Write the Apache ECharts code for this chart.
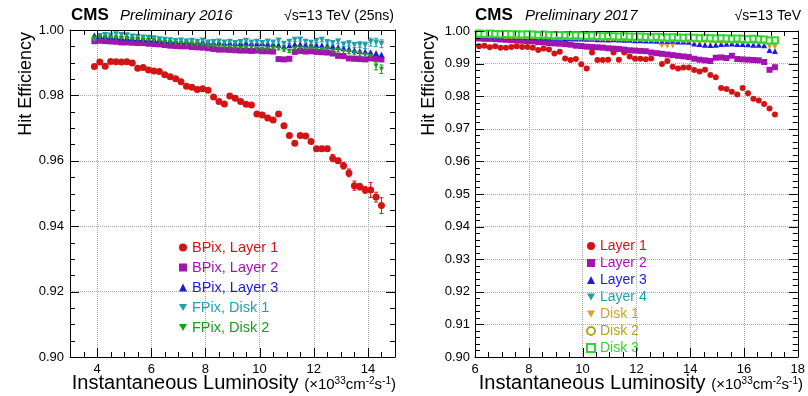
<!DOCTYPE html>
<html>
<head>
<meta charset="utf-8">
<title>Hit Efficiency vs Instantaneous Luminosity</title>
<script src="https://cdn.jsdelivr.net/npm/echarts@6/dist/echarts.min.js"></script>
<style>
  html, body { margin: 0; padding: 0; background: #fff; }
  #main { width: 808px; height: 396px; }
</style>
</head>
<body>
<div id="main"></div>
<script>
// ---- 2016 (left panel) ----
var lumi2016 = [
  3.9, 4.1, 4.3, 4.5, 4.7, 4.9, 5.1, 5.3, 5.5, 5.7,
  5.9, 6.1, 6.3, 6.5, 6.7, 6.9, 7.1, 7.3, 7.5, 7.7,
  7.9, 8.1, 8.3, 8.5, 8.7, 8.9, 9.1, 9.3, 9.5, 9.7,
  9.9, 10.1, 10.3, 10.5, 10.7, 10.9, 11.1, 11.3, 11.5, 11.7,
  11.9, 12.1, 12.3, 12.5, 12.7, 12.9, 13.1, 13.3, 13.5, 13.7,
  13.9, 14.1, 14.3, 14.5
];
var bpixLayer1 = [
  0.9888, 0.9902, 0.9889, 0.9904, 0.9903, 0.9902, 0.9903, 0.9899, 0.9883, 0.9885,
  0.9878, 0.9875, 0.9873, 0.9863, 0.9857, 0.9851, 0.9842, 0.9828, 0.9825, 0.9818,
  0.9820, 0.9816, 0.9795, 0.9781, 0.9774, 0.9798, 0.9791, 0.9781, 0.9773, 0.9771,
  0.9743, 0.9740, 0.9731, 0.9725, 0.9743, 0.9707, 0.9677, 0.9654, 0.9677, 0.9676,
  0.9659, 0.9637, 0.9637, 0.9637, 0.9608, 0.9600, 0.9585, 0.9563, 0.9524, 0.9521,
  0.9511, 0.9511, 0.9489, 0.9463
];
var bpixLayer1Err = [
  0.0003, 0.0003, 0.0003, 0.0003, 0.0003, 0.0003, 0.0003, 0.0003, 0.0003, 0.0003,
  0.0003, 0.0003, 0.0003, 0.0003, 0.0003, 0.0003, 0.0003, 0.0003, 0.0003, 0.0003,
  0.0003, 0.0003, 0.0003, 0.0003, 0.0003, 0.0003, 0.0003, 0.0003, 0.0003, 0.0003,
  0.0004, 0.0004, 0.0004, 0.0004, 0.0004, 0.0005, 0.0005, 0.0005, 0.0005, 0.0005,
  0.0006, 0.0007, 0.0007, 0.0007, 0.0011, 0.0008, 0.0010, 0.0012, 0.0014, 0.0010,
  0.0010, 0.0023, 0.0015, 0.0024
];
var bpixLayer2 = [
  0.9966, 0.9967, 0.9966, 0.9965, 0.9964, 0.9962, 0.9962, 0.9961, 0.9960, 0.9960,
  0.9958, 0.9957, 0.9956, 0.9954, 0.9952, 0.9951, 0.9950, 0.9950, 0.9948, 0.9947,
  0.9946, 0.9944, 0.9942, 0.9940, 0.9940, 0.9939, 0.9938, 0.9937, 0.9937, 0.9936,
  0.9937, 0.9935, 0.9935, 0.9934, 0.9911, 0.9910, 0.9912, 0.9933, 0.9936, 0.9934,
  0.9935, 0.9933, 0.9932, 0.9931, 0.9928, 0.9921, 0.9920, 0.9913, 0.9912, 0.9911,
  0.9910, 0.9913, 0.9912, 0.9910
];
var bpixLayer3 = [
  0.9984, 0.9983, 0.9982, 0.9980, 0.9979, 0.9977, 0.9976, 0.9975, 0.9974, 0.9973,
  0.9972, 0.9971, 0.9970, 0.9969, 0.9968, 0.9967, 0.9966, 0.9966, 0.9965, 0.9965,
  0.9964, 0.9963, 0.9962, 0.9962, 0.9961, 0.9961, 0.9960, 0.9960, 0.9961, 0.9960,
  0.9959, 0.9960, 0.9958, 0.9957, 0.9955, 0.9950, 0.9953, 0.9957, 0.9957, 0.9956,
  0.9955, 0.9955, 0.9953, 0.9952, 0.9951, 0.9948, 0.9945, 0.9943, 0.9938, 0.9936,
  0.9934, 0.9932, 0.9930, 0.9925
];
var fpixDisk1 = [
  0.9970, 0.9982, 0.9985, 0.9983, 0.9987, 0.9985, 0.9984, 0.9980, 0.9979, 0.9977,
  0.9976, 0.9975, 0.9972, 0.9970, 0.9969, 0.9966, 0.9968, 0.9965, 0.9967, 0.9964,
  0.9968, 0.9962, 0.9963, 0.9965, 0.9962, 0.9964, 0.9960, 0.9963, 0.9967, 0.9962,
  0.9964, 0.9960, 0.9965, 0.9962, 0.9968, 0.9958, 0.9964, 0.9970, 0.9971, 0.9964,
  0.9961, 0.9967, 0.9970, 0.9963, 0.9960, 0.9965, 0.9956, 0.9959, 0.9954, 0.9955,
  0.9953, 0.9963, 0.9962, 0.9958
];
var fpixDisk1Err = [
  0.0012, 0.0005, 0.0005, 0.0005, 0.0005, 0.0005, 0.0004, 0.0004, 0.0004, 0.0004,
  0.0004, 0.0004, 0.0004, 0.0004, 0.0004, 0.0004, 0.0004, 0.0004, 0.0004, 0.0004,
  0.0004, 0.0004, 0.0004, 0.0004, 0.0004, 0.0004, 0.0004, 0.0004, 0.0004, 0.0004,
  0.0005, 0.0005, 0.0005, 0.0005, 0.0005, 0.0005, 0.0005, 0.0005, 0.0005, 0.0005,
  0.0005, 0.0005, 0.0006, 0.0006, 0.0006, 0.0007, 0.0007, 0.0008, 0.0008, 0.0009,
  0.0010, 0.0012, 0.0013, 0.0012
];
var fpixDisk2 = [
  0.9975, 0.9977, 0.9976, 0.9976, 0.9975, 0.9974, 0.9973, 0.9972, 0.9971, 0.9969,
  0.9968, 0.9966, 0.9964, 0.9962, 0.9961, 0.9959, 0.9958, 0.9957, 0.9956, 0.9955,
  0.9953, 0.9951, 0.9950, 0.9949, 0.9948, 0.9947, 0.9946, 0.9944, 0.9945, 0.9946,
  0.9941, 0.9942, 0.9941, 0.9944, 0.9943, 0.9939, 0.9935, 0.9943, 0.9944, 0.9942,
  0.9944, 0.9941, 0.9940, 0.9943, 0.9936, 0.9938, 0.9934, 0.9933, 0.9930, 0.9928,
  0.9923, 0.9920, 0.9890, 0.9880
];
var fpixDisk2Err = [
  0.0004, 0.0004, 0.0004, 0.0004, 0.0004, 0.0004, 0.0004, 0.0004, 0.0004, 0.0004,
  0.0004, 0.0004, 0.0004, 0.0004, 0.0004, 0.0004, 0.0004, 0.0004, 0.0004, 0.0004,
  0.0004, 0.0004, 0.0004, 0.0004, 0.0004, 0.0004, 0.0004, 0.0004, 0.0004, 0.0004,
  0.0004, 0.0004, 0.0004, 0.0004, 0.0004, 0.0004, 0.0004, 0.0004, 0.0004, 0.0004,
  0.0005, 0.0005, 0.0005, 0.0005, 0.0005, 0.0005, 0.0006, 0.0006, 0.0006, 0.0007,
  0.0008, 0.0009, 0.0012, 0.0013
];

// ---- 2017 (right panel) ----
var lumi2017 = [
  6.15, 6.35, 6.55, 6.75, 6.95, 7.15, 7.35, 7.55, 7.75, 7.95,
  8.15, 8.35, 8.55, 8.75, 8.95, 9.15, 9.35, 9.55, 9.75, 9.95,
  10.15, 10.35, 10.55, 10.75, 10.95, 11.15, 11.35, 11.55, 11.75, 11.95,
  12.15, 12.35, 12.55, 12.75, 12.95, 13.15, 13.35, 13.55, 13.75, 13.95,
  14.15, 14.35, 14.55, 14.75, 14.95, 15.15, 15.35, 15.55, 15.75, 15.95,
  16.15, 16.35, 16.55, 16.75, 16.95, 17.15
];
var layer1 = [
  0.9953, 0.9955, 0.9950, 0.9953, 0.9949, 0.9949, 0.9951, 0.9953, 0.9951, 0.9951,
  0.9949, 0.9942, 0.9946, 0.9943, 0.9931, 0.9936, 0.9916, 0.9911, 0.9914, 0.9898,
  0.9885, 0.9934, 0.9911, 0.9911, 0.9912, 0.9934, 0.9912, 0.9934, 0.9922, 0.9915,
  0.9915, 0.9913, 0.9916, null, 0.9899, 0.9908, 0.9890, 0.9885, 0.9888, 0.9888,
  0.9880, 0.9876, 0.9881, 0.9865, 0.9858, 0.9825, 0.9822, 0.9814, 0.9805, 0.9825,
  0.9809, 0.9792, 0.9787, 0.9776, 0.9762, 0.9744
];
var layer2 = [
  0.9977, 0.9976, 0.9976, 0.9975, 0.9974, 0.9973, 0.9972, 0.9971, 0.9970, 0.9969,
  0.9968, 0.9966, 0.9965, 0.9963, 0.9962, 0.9961, 0.9960, 0.9958, 0.9955, 0.9954,
  0.9952, 0.9951, 0.9950, 0.9949, 0.9947, 0.9946, 0.9945, 0.9943, 0.9941, 0.9940,
  0.9939, 0.9938, 0.9934, 0.9932, 0.9930, 0.9928, 0.9926, 0.9924, 0.9922, 0.9920,
  0.9915, 0.9912, 0.9910, 0.9908, 0.9918, 0.9919, 0.9917, 0.9924, 0.9914, 0.9913,
  0.9912, 0.9911, 0.9910, 0.9905, 0.9881, 0.9889
];
var layer3 = [
  0.9986, 0.9986, 0.9985, 0.9985, 0.9984, 0.9984, 0.9983, 0.9983, 0.9982, 0.9982,
  0.9981, 0.9981, 0.9980, 0.9980, 0.9979, 0.9979, 0.9978, 0.9978, 0.9977, 0.9977,
  0.9976, 0.9976, 0.9975, 0.9975, 0.9974, 0.9975, 0.9974, 0.9973, 0.9973, 0.9972,
  0.9972, 0.9971, 0.9971, 0.9970, 0.9968, 0.9969, 0.9969, 0.9968, 0.9968, 0.9967,
  0.9962, 0.9960, 0.9958, 0.9957, 0.9958, 0.9960, 0.9961, 0.9962, 0.9960, 0.9960,
  0.9959, 0.9958, 0.9958, 0.9956, 0.9942, 0.9939
];
var layer4 = [
  0.9988, 0.9988, 0.9987, 0.9988, 0.9987, 0.9986, 0.9986, 0.9985, 0.9986, 0.9985,
  0.9984, 0.9984, 0.9983, 0.9984, 0.9983, 0.9982, 0.9982, 0.9983, 0.9981, 0.9981,
  0.9980, 0.9981, 0.9980, 0.9979, 0.9978, 0.9979, 0.9979, 0.9978, 0.9977, 0.9977,
  0.9977, 0.9976, 0.9976, 0.9977, 0.9976, 0.9975, 0.9975, 0.9974, 0.9974, 0.9974,
  0.9973, 0.9973, 0.9972, 0.9973, 0.9972, 0.9971, 0.9972, 0.9971, 0.9970, 0.9971,
  0.9970, 0.9969, 0.9969, 0.9968, 0.9964, 0.9962
];
var disk1 = [
  0.9987, 0.9986, 0.9986, 0.9986, 0.9985, 0.9985, 0.9984, 0.9984, 0.9984, 0.9983,
  0.9983, 0.9982, 0.9982, 0.9981, 0.9981, 0.9980, 0.9980, 0.9979, 0.9979, 0.9978,
  0.9978, 0.9977, 0.9977, 0.9976, 0.9976, 0.9976, 0.9975, 0.9975, 0.9974, 0.9974,
  0.9974, 0.9973, 0.9973, 0.9972, 0.9954, 0.9953, 0.9954, 0.9972, 0.9972, 0.9971,
  0.9971, 0.9970, 0.9970, 0.9970, 0.9969, 0.9969, 0.9968, 0.9968, 0.9968, 0.9967,
  0.9967, 0.9966, 0.9966, 0.9965, 0.9951, 0.9950
];
var disk2 = [
  0.9990, 0.9990, 0.9989, 0.9989, 0.9989, 0.9988, 0.9988, 0.9988, 0.9987, 0.9987,
  0.9987, 0.9986, 0.9986, 0.9986, 0.9985, 0.9985, 0.9985, 0.9984, 0.9984, 0.9984,
  0.9983, 0.9983, 0.9983, 0.9982, 0.9982, 0.9982, 0.9981, 0.9981, 0.9981, 0.9980,
  0.9980, 0.9980, 0.9979, 0.9979, 0.9979, 0.9978, 0.9978, 0.9978, 0.9977, 0.9977,
  0.9977, 0.9976, 0.9976, 0.9976, 0.9975, 0.9975, 0.9975, 0.9974, 0.9974, 0.9974,
  0.9973, 0.9973, 0.9972, 0.9972, 0.9970, 0.9969
];
var disk3 = [
  0.9992, 0.9991, 0.9992, 0.9991, 0.9990, 0.9991, 0.9990, 0.9990, 0.9989, 0.9990,
  0.9989, 0.9988, 0.9989, 0.9988, 0.9987, 0.9988, 0.9987, 0.9986, 0.9987, 0.9986,
  0.9985, 0.9986, 0.9985, 0.9984, 0.9985, 0.9984, 0.9983, 0.9984, 0.9983, 0.9982,
  0.9983, 0.9982, 0.9981, 0.9982, 0.9981, 0.9980, 0.9981, 0.9980, 0.9979, 0.9980,
  0.9979, 0.9978, 0.9979, 0.9978, 0.9977, 0.9978, 0.9977, 0.9976, 0.9977, 0.9976,
  0.9975, 0.9976, 0.9975, 0.9974, 0.9971, 0.9972
];

// ---- axis ticks ----
var xTicks2016 = [4, 6, 8, 10, 12, 14];
var xTicks2017 = [6, 8, 10, 12, 14, 16, 18];
var yTicks2016 = [0.90, 0.92, 0.94, 0.96, 0.98, 1.00];
var yTicks2017 = [0.90, 0.91, 0.92, 0.93, 0.94, 0.95, 0.96, 0.97, 0.98, 0.99, 1.00];

var FONT = '"Liberation Sans", Arial, Helvetica, sans-serif';
var C = {
  red: '#d41414', purple: '#a214ae', blue: '#1c1ce0', cyan: '#1ea2a8',
  green: '#18a018', orange: '#d9a028', olive: '#b4a41c', lime: '#30d630'
};
var DOWN = 'path://M0,0L10,0L5,8.7Z';

function pairs(xs, ys) {
  var out = [];
  for (var i = 0; i < xs.length; i++) {
    if (ys[i] != null) out.push([xs[i], ys[i]]);
  }
  return out;
}

function scatter(name, xs, ys, color, symbol, size, xi, yi) {
  return {
    name: name, type: 'scatter', xAxisIndex: xi, yAxisIndex: yi,
    data: pairs(xs, ys), symbol: symbol, symbolSize: size,
    itemStyle: { color: color, opacity: 1 }, z: 3, silent: true
  };
}

function errorBars(xs, ys, es, color, xi, yi) {
  var data = [];
  for (var i = 0; i < xs.length; i++) data.push([xs[i], ys[i], es[i]]);
  return {
    type: 'custom', xAxisIndex: xi, yAxisIndex: yi, silent: true, z: 2,
    data: data, encode: { x: 0, y: 1 },
    renderItem: function (params, api) {
      var x = api.value(0), y = api.value(1), e = api.value(2);
      var a = api.coord([x, y + e]), b = api.coord([x, y - e]);
      var st = { stroke: color, lineWidth: 1 };
      return {
        type: 'group', children: [
          { type: 'line', shape: { x1: a[0], y1: a[1], x2: b[0], y2: b[1] }, style: st },
          { type: 'line', shape: { x1: a[0] - 2, y1: a[1], x2: a[0] + 2, y2: a[1] }, style: st },
          { type: 'line', shape: { x1: b[0] - 2, y1: b[1], x2: b[0] + 2, y2: b[1] }, style: st }
        ]
      };
    }
  };
}

// ROOT-style ticks on all four sides of a frame, placed through the axes' scales
function frameTicks(xi, yi, xMajor, xMinorStep, yMajor, yMinorStep) {
  var xMin = xMajor[0], yMin = yMajor[0];
  var data = [], i, v;
  var xLo = 3 < xMin && xi === 0 ? 3 : xMin;
  var xHi = xi === 0 ? 15 : xMajor[xMajor.length - 1];
  for (i = 0; ; i++) {
    v = Math.round((xLo + i * xMinorStep) * 1e6) / 1e6;
    if (v > xHi + 1e-9) break;
    data.push([v, xMajor.indexOf(v) >= 0 ? 0 : 1]);
  }
  var yHi = yMajor[yMajor.length - 1];
  for (i = 0; ; i++) {
    v = Math.round((yMin + i * yMinorStep) * 1e6) / 1e6;
    if (v > yHi + 1e-9) break;
    var major = false;
    for (var j = 0; j < yMajor.length; j++) if (Math.abs(yMajor[j] - v) < 1e-7) major = true;
    data.push([v, major ? 2 : 3]);
  }
  var xRef = (xLo + xHi) / 2, yRef = (yMin + yHi) / 2;
  return {
    type: 'custom', xAxisIndex: xi, yAxisIndex: yi, silent: true, z: 5, clip: false,
    data: data, encode: { x: 0 },
    renderItem: function (params, api) {
      var cs = params.coordSys;
      var v = api.value(0), k = api.value(1);
      var len = (k === 0 || k === 2) ? 9 : 5;
      var st = { stroke: '#000', lineWidth: 1 };
      var top = cs.y, bot = cs.y + cs.height, lft = cs.x, rgt = cs.x + cs.width;
      if (k < 2) {
        var px = Math.round(api.coord([v, yRef])[0]) + 0.5;
        return { type: 'group', children: [
          { type: 'line', shape: { x1: px, y1: bot, x2: px, y2: bot - len }, style: st },
          { type: 'line', shape: { x1: px, y1: top, x2: px, y2: top + len }, style: st }
        ] };
      }
      var py = Math.round(api.coord([xRef, v])[1]) + 0.5;
      return { type: 'group', children: [
        { type: 'line', shape: { x1: lft, y1: py, x2: lft + len, y2: py }, style: st },
        { type: 'line', shape: { x1: rgt, y1: py, x2: rgt - len, y2: py }, style: st }
      ] };
    }
  };
}

var lineBlack = { show: true, onZero: false, lineStyle: { color: '#000', width: 1 } };
var gridDots = { show: true, lineStyle: { color: '#a8a8a8', type: 'dotted', width: 1 } };
var noTick = { show: false };
function fmt2(v) { return v.toFixed(2); }

var titleRich = {
  a: { fontSize: 20, fontFamily: FONT, fill: '#000', lineHeight: 24, verticalAlign: 'bottom' },
  b: { fontSize: 15, fontFamily: FONT, fill: '#000', lineHeight: 24, verticalAlign: 'bottom', padding: [0, 0, 1, 0] },
  s: { fontSize: 10, fontFamily: FONT, fill: '#000', lineHeight: 24, verticalAlign: 'bottom', padding: [0, 0, 7, 0] }
};
var titleText = '{a|Instantaneous Luminosity }{b|(×10}{s|33}{b|cm}{s|-2}{b|s}{s|-1}{b|)}';

var myChart = echarts.init(document.getElementById('main'), null, { renderer: 'canvas' });

myChart.setOption({
  animation: false,
  backgroundColor: '#fff',
  textStyle: { fontFamily: FONT },
  grid: [
    { left: 70, top: 30, width: 325, height: 327 },
    { left: 475, top: 31, width: 327, height: 326 }
  ],
  xAxis: [
    { gridIndex: 0, type: 'value', position: 'bottom', min: 3, max: 15, interval: 1,
      axisLine: lineBlack, axisTick: { show: false, customValues: xTicks2016 },
      axisLabel: { customValues: xTicks2016, margin: 6, color: '#000', fontSize: 13, fontFamily: FONT },
      splitLine: gridDots },
    { gridIndex: 0, type: 'value', position: 'top', min: 3, max: 15, interval: 1,
      axisLine: lineBlack, axisTick: noTick, axisLabel: { show: false }, splitLine: { show: false } },
    { gridIndex: 1, type: 'value', position: 'bottom', min: 6, max: 18, interval: 2,
      axisLine: lineBlack, axisTick: noTick,
      axisLabel: { margin: 6, color: '#000', fontSize: 13, fontFamily: FONT },
      splitLine: gridDots },
    { gridIndex: 1, type: 'value', position: 'top', min: 6, max: 18, interval: 2,
      axisLine: lineBlack, axisTick: noTick, axisLabel: { show: false }, splitLine: { show: false } }
  ],
  yAxis: [
    { gridIndex: 0, type: 'value', position: 'left', min: 0.9, max: 1.0, interval: 0.02,
      axisLine: lineBlack, axisTick: noTick,
      axisLabel: { margin: 6, color: '#000', fontSize: 13, fontFamily: FONT, formatter: fmt2 },
      splitLine: gridDots },
    { gridIndex: 0, type: 'value', position: 'right', min: 0.9, max: 1.0, interval: 0.02,
      axisLine: lineBlack, axisTick: noTick, axisLabel: { show: false }, splitLine: { show: false } },
    { gridIndex: 1, type: 'value', position: 'left', min: 0.9, max: 1.0, interval: 0.01,
      axisLine: lineBlack, axisTick: noTick,
      axisLabel: { margin: 5, color: '#000', fontSize: 13, fontFamily: FONT, formatter: fmt2 },
      splitLine: gridDots },
    { gridIndex: 1, type: 'value', position: 'right', min: 0.9, max: 1.0, interval: 0.01,
      axisLine: lineBlack, axisTick: noTick, axisLabel: { show: false }, splitLine: { show: false } }
  ],
  legend: [
    {
      orient: 'vertical', left: 174, top: 235, selectedMode: false,
      itemWidth: 8, itemHeight: 8, itemGap: 5, itemTextGap: 6,
      textStyle: { fontSize: 14.5, fontFamily: FONT },
      data: [
        { name: 'BPix, Layer 1', textStyle: { color: C.red } },
        { name: 'BPix, Layer 2', textStyle: { color: C.purple } },
        { name: 'BPix, Layer 3', textStyle: { color: C.blue } },
        { name: 'FPix, Disk 1', textStyle: { color: C.cyan } },
        { name: 'FPix, Disk 2', textStyle: { color: C.green } }
      ]
    },
    {
      orient: 'vertical', left: 581, top: 234, selectedMode: false,
      itemWidth: 8, itemHeight: 8, itemGap: 3, itemTextGap: 9,
      textStyle: { fontSize: 14, fontFamily: FONT },
      data: [
        { name: 'Layer 1', textStyle: { color: C.red } },
        { name: 'Layer 2', textStyle: { color: C.purple } },
        { name: 'Layer 3', textStyle: { color: C.blue } },
        { name: 'Layer 4', textStyle: { color: C.cyan } },
        { name: 'Disk 1', textStyle: { color: C.orange } },
        { name: 'Disk 2', textStyle: { color: C.olive } },
        { name: 'Disk 3', textStyle: { color: C.lime } }
      ]
    }
  ],
  graphic: [
    { type: 'text', x: 71, y: 15, style: { text: 'CMS', font: 'bold 17px ' + FONT, fill: '#000', verticalAlign: 'middle' } },
    { type: 'text', x: 120, y: 16, style: { text: 'Preliminary 2016', font: 'italic 15px ' + FONT, fill: '#000', verticalAlign: 'middle' } },
    { type: 'text', x: 394, y: 16, style: { text: '√s=13 TeV (25ns)', font: '14px ' + FONT, fill: '#000', align: 'right', verticalAlign: 'middle' } },
    { type: 'text', x: 475, y: 15, style: { text: 'CMS', font: 'bold 17px ' + FONT, fill: '#000', verticalAlign: 'middle' } },
    { type: 'text', x: 525, y: 16, style: { text: 'Preliminary 2017', font: 'italic 15px ' + FONT, fill: '#000', verticalAlign: 'middle' } },
    { type: 'text', x: 801, y: 16, style: { text: '√s=13 TeV', font: '14px ' + FONT, fill: '#000', align: 'right', verticalAlign: 'middle' } },
    { type: 'text', x: 26, y: 32, rotation: Math.PI / 2,
      style: { text: 'Hit Efficiency', font: '18px ' + FONT, fill: '#000', align: 'right', verticalAlign: 'middle' } },
    { type: 'text', x: 429, y: 32, rotation: Math.PI / 2,
      style: { text: 'Hit Efficiency', font: '18px ' + FONT, fill: '#000', align: 'right', verticalAlign: 'middle' } },
    { type: 'text', x: 396, y: 381,
      style: { text: titleText, align: 'right', verticalAlign: 'middle', rich: titleRich } },
    { type: 'text', x: 803, y: 381,
      style: { text: titleText, align: 'right', verticalAlign: 'middle', rich: titleRich } }
  ],
  series: [
    frameTicks(0, 0, xTicks2016, 0.5, yTicks2016, 0.005),
    frameTicks(2, 2, xTicks2017, 0.5, yTicks2017, 0.002),

    errorBars(lumi2016, bpixLayer1, bpixLayer1Err, C.red, 0, 0),
    errorBars(lumi2016, fpixDisk1, fpixDisk1Err, C.cyan, 0, 0),
    errorBars(lumi2016, fpixDisk2, fpixDisk2Err, C.green, 0, 0),
    scatter('BPix, Layer 1', lumi2016, bpixLayer1, C.red, 'circle', 7, 0, 0),
    scatter('BPix, Layer 2', lumi2016, bpixLayer2, C.purple, 'rect', 6, 0, 0),
    scatter('BPix, Layer 3', lumi2016, bpixLayer3, C.blue, 'triangle', 6, 0, 0),
    scatter('FPix, Disk 1', lumi2016, fpixDisk1, C.cyan, DOWN, 6, 0, 0),
    scatter('FPix, Disk 2', lumi2016, fpixDisk2, C.green, DOWN, 5, 0, 0),

    scatter('Layer 1', lumi2017, layer1, C.red, 'circle', 6, 2, 2),
    scatter('Layer 2', lumi2017, layer2, C.purple, 'rect', 6, 2, 2),
    scatter('Layer 3', lumi2017, layer3, C.blue, 'triangle', 6, 2, 2),
    scatter('Layer 4', lumi2017, layer4, C.cyan, DOWN, 6, 2, 2),
    scatter('Disk 1', lumi2017, disk1, C.orange, DOWN, 5, 2, 2),
    scatter('Disk 2', lumi2017, disk2, C.olive, 'emptyCircle', 6, 2, 2),
    scatter('Disk 3', lumi2017, disk3, C.lime, 'emptyRect', 6, 2, 2)
  ]
});
</script>
</body>
</html>
